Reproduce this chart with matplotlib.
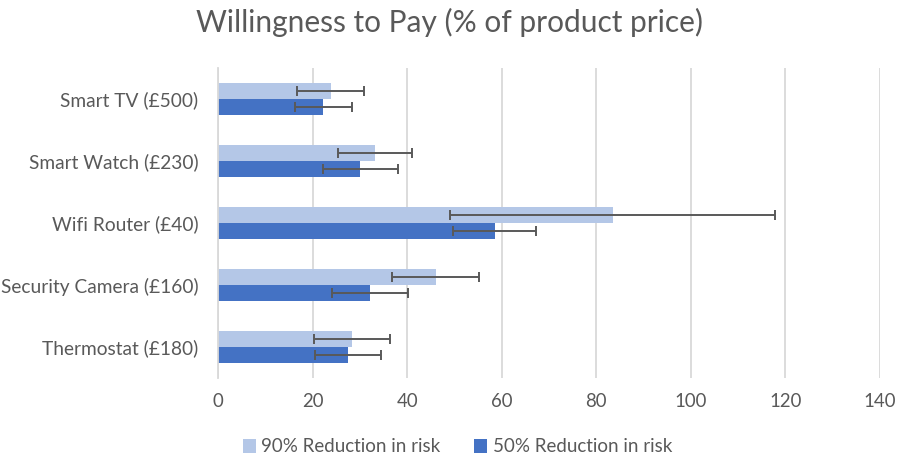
import matplotlib
matplotlib.use("Agg")
import matplotlib.pyplot as plt
import numpy as np

plt.rcParams['font.family'] = ['Lato', 'DejaVu Sans']

categories = ["Smart TV (£500)", "Smart Watch (£230)", "Wifi Router (£40)",
              "Security Camera (£160)", "Thermostat (£180)"]
series_names = ["90% Reduction in risk", "50% Reduction in risk"]
vals_90 = [23.8, 33.2, 83.5, 46.1, 28.3]
err_90 = [7.0, 7.9, 34.4, 9.2, 8.0]
vals_50 = [22.3, 30.1, 58.5, 32.2, 27.5]
err_50 = [6.0, 8.0, 8.8, 8.0, 6.9]
xticks = [0, 20, 40, 60, 80, 100, 120, 140]

c_light = "#B4C7E7"
c_dark = "#4472C4"
c_text = "#595959"
c_err = "#595959"
c_grid = "#D9D9D9"

fig = plt.figure(figsize=(8.98, 4.62), dpi=100)
ax = fig.add_axes([218/898, 1-378/462, (880-218)/898, (378-68)/462])

y = np.arange(len(categories))
h = 0.26
ax.barh(y - h/2, vals_90, height=h, color=c_light, label=series_names[0], zorder=2)
ax.barh(y + h/2, vals_50, height=h, color=c_dark, label=series_names[1], zorder=2)
ax.errorbar(vals_90, y - h/2, xerr=err_90, fmt='none', ecolor=c_err, elinewidth=1.4,
            capsize=3.8, capthick=1.4, zorder=3)
ax.errorbar(vals_50, y + h/2, xerr=err_50, fmt='none', ecolor=c_err, elinewidth=1.4,
            capsize=3.8, capthick=1.4, zorder=3)

ax.set_ylim(len(categories) - 0.5, -0.5)
ax.set_yticks(y)
ax.set_yticklabels(categories)
ax.set_xlim(0, 140)
ax.set_xticks(xticks)
ax.grid(axis='x', color=c_grid, linewidth=1.3, zorder=0)
ax.set_axisbelow(True)
for s in ['top', 'right', 'bottom']:
    ax.spines[s].set_visible(False)
ax.spines['left'].set_color(c_grid)
ax.spines['left'].set_linewidth(1.3)
ax.tick_params(axis='both', length=0, labelsize=13.4, colors=c_text)
ax.tick_params(axis='y', labelsize=13.8)
ax.tick_params(axis='x', pad=11)
ax.tick_params(axis='y', pad=14)

fig.suptitle("Willingness to Pay (% of product price)", y=1-22/462, va='center',
             fontsize=21.5, color=c_text)

fig.legend(loc='center', bbox_to_anchor=(457.5/898, 1-447/462), ncol=2, frameon=False,
           fontsize=13.5, labelcolor=c_text, handlelength=0.7, handleheight=0.7,
           handletextpad=0.3, columnspacing=1.8)

fig.savefig("out.png", dpi=100, facecolor='white')
